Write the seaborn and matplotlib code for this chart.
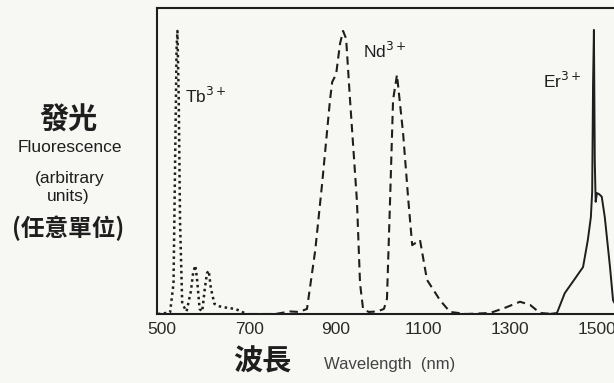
import numpy as np
import pandas as pd
import matplotlib
matplotlib.use("Agg")
import matplotlib.pyplot as plt
import seaborn as sns

# ---- data ----
tb_nm = [490, 518, 526, 530, 533, 535, 538, 541, 546, 556, 566, 571, 576, 580, 586,
         592, 598, 603, 607, 612, 620, 632, 650, 668, 684, 694]
tb_int = [0.0, 0.03, 0.6, 3.2, 5.2, 5.55, 4.2, 1.8, 0.2, 0.05, 0.45, 0.8, 0.95, 0.7,
          0.1, 0.05, 0.5, 0.8, 0.85, 0.5, 0.2, 0.15, 0.12, 0.1, 0.04, 0.0]

nd_nm = [700, 760, 794, 815, 833, 852, 868, 886, 891, 900, 909, 916, 923, 932, 948,
         955, 962, 975, 995, 1010, 1017, 1024, 1031, 1040, 1054, 1066, 1075, 1084,
         1093, 1109, 1139, 1162, 1200, 1254, 1288, 1323, 1346, 1369, 1400]
nd_int = [0.0, 0.0, 0.05, 0.04, 0.1, 1.25, 2.57, 4.2, 4.55, 4.7, 5.3, 5.55, 5.4, 4.2,
          2.2, 0.6, 0.1, 0.04, 0.05, 0.1, 0.3, 2.2, 4.2, 4.69, 3.55, 2.24, 1.35, 1.4,
          1.45, 0.67, 0.27, 0.04, 0.0, 0.02, 0.12, 0.24, 0.18, 0.02, 0.0]

er_nm = [1390, 1408, 1426, 1450, 1468, 1479, 1486, 1489, 1491, 1493, 1495, 1497,
         1500, 1505, 1511, 1518, 1530, 1537, 1553, 1575]
er_int = [0.0, 0.02, 0.41, 0.7, 0.92, 1.45, 1.9, 2.4, 4.5, 5.57, 3.0, 2.2,
          2.37, 2.35, 2.3, 1.9, 0.92, 0.27, 0.02, 0.0]

x_ticks = [500, 700, 900, 1100, 1300, 1500]
y_ticks = [1, 2, 3, 4, 5]

# ---- style ----
sns.set_style("white")
plt.rcParams["font.family"] = ["Liberation Sans", "Noto Sans CJK TC", "DejaVu Sans"]
ink = "#1e1e1e"
paper = "#f7f7f4"

W, H = 614, 383
fig = plt.figure(figsize=(W / 100, H / 100), dpi=100, facecolor=paper)
ax = fig.add_axes([157 / W, 69 / H, 473 / W, 306 / H], facecolor=paper)

sns.lineplot(x=tb_nm, y=tb_int, ax=ax, color=ink, lw=1.8, linestyle=(0, (1, 1.4)))
sns.lineplot(x=nd_nm, y=nd_int, ax=ax, color=ink, lw=1.5, linestyle=(0, (4, 2.5)))
sns.lineplot(x=er_nm, y=er_int, ax=ax, color=ink, lw=1.4)

ax.set_xlim(488, 1576)
ax.set_ylim(0, 6.0)
ax.set_xticks(x_ticks)
ax.set_xticklabels([str(v) for v in x_ticks], fontsize=12.5, color="#2a2a2a")
ax.set_yticks(y_ticks)
ax.set_yticklabels([])
ax.tick_params(axis="both", direction="in", length=6, width=1.2, color=ink, pad=6)
for s in ["left", "bottom", "top", "right"]:
    ax.spines[s].set_color(ink)
    ax.spines[s].set_linewidth(1.5)

# ion labels
ax.text(0.059, 0.69, "Tb$^{3+}$", transform=ax.transAxes, fontsize=12.5, color=ink)
ax.text(0.435, 0.837, "Nd$^{3+}$", transform=ax.transAxes, fontsize=12.5, color=ink)
ax.text(0.816, 0.739, "Er$^{3+}$", transform=ax.transAxes, fontsize=12.5, color=ink)

# y label block
def ft(x, y, s, color=ink, **kw):
    fig.text(x / W, 1 - y / H, s, ha="center", va="center", color=color, **kw)

ft(68, 120, "發光", fontsize=21, fontweight="bold", family=["Noto Sans CJK TC"])
ft(70, 147, "Fluorescence", fontsize=12.5)
ft(70, 178, "(arbitrary", fontsize=12.5)
ft(68, 197, "units)", fontsize=12.5)
ft(68, 228, "(任意單位)", fontsize=17, fontweight="bold", family=["Noto Sans CJK TC"])

# x label
ft(262, 361, "波長", fontsize=21, fontweight="bold", family=["Noto Sans CJK TC"])
ft(390, 364, "Wavelength  (nm)", fontsize=12, color="#444444")

fig.savefig("out.png", dpi=100, facecolor=paper)
